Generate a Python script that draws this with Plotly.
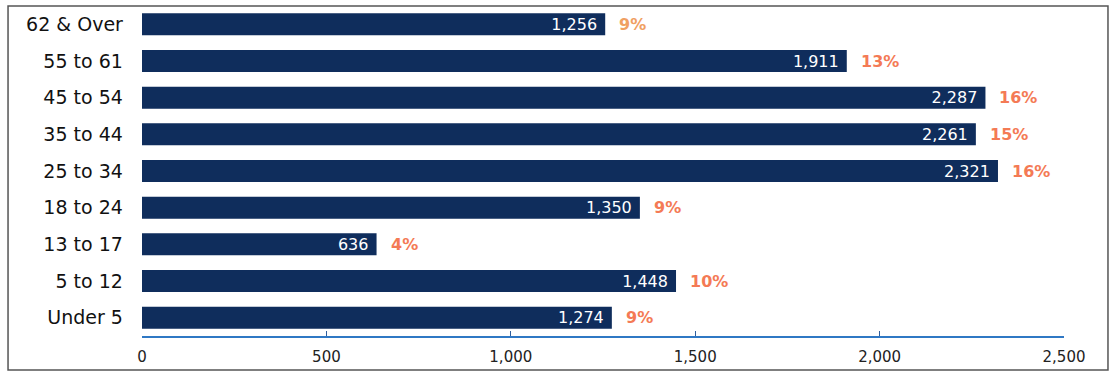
import plotly.graph_objects as go

categories = ["Under 5", "5 to 12", "13 to 17", "18 to 24", "25 to 34",
              "35 to 44", "45 to 54", "55 to 61", "62 & Over"]
values = [1274, 1448, 636, 1350, 2321, 2261, 2287, 1911, 1256]
percents = ["9%", "10%", "4%", "9%", "16%", "15%", "16%", "13%", "9%"]
pct_colors = ["#f47a55", "#f47a55", "#f47a55", "#f47a55", "#f47a55",
              "#f47a55", "#f47a55", "#f47a55", "#f0a062"]
tick_vals = [0, 500, 1000, 1500, 2000, 2500]
tick_text = ["0", "500", "1,000", "1,500", "2,000", "2,500"]

FONT = "DejaVu Sans, sans-serif"

fig = go.Figure()
fig.add_trace(go.Bar(
    y=categories, x=values, orientation="h",
    marker=dict(color="#0f2d5c", line=dict(width=0)),
    text=[f"{v:,}\u00a0" for v in values],
    textposition="inside", insidetextanchor="end",
    constraintext="none", textangle=0,
    textfont=dict(color="white", size=16, family=FONT),
    cliponaxis=False,
))

for c, v, p, col in zip(categories, values, percents, pct_colors):
    fig.add_annotation(x=v, y=c, text=f"<b>{p}</b>", showarrow=False,
                       xanchor="left", xshift=12,
                       font=dict(color=col, size=16, family=FONT))

fig.add_shape(type="rect", xref="paper", yref="paper",
              x0=-0.1453, x1=1.0477, y0=-0.103, y1=1.0,
              line=dict(color="#555555", width=1.5))

fig.update_layout(
    width=1115, height=373,
    margin=dict(l=142, r=51, t=6, b=37),
    paper_bgcolor="white", plot_bgcolor="white",
    bargap=0.4, showlegend=False,
    font=dict(family=FONT, color="#111111"),
)
fig.update_xaxes(range=[0, 2500], tickvals=tick_vals, ticktext=tick_text,
                 showgrid=False, zeroline=False, showline=True,
                 linecolor="#2f78c4", linewidth=2, ticks="inside",
                 tickcolor="#2f5f9e", ticklen=5, ticklabelstandoff=6,
                 tickfont=dict(size=15, color="#222"))
fig.update_yaxes(showgrid=False, zeroline=False, showline=False,
                 ticks="", tickfont=dict(size=19, color="#111"), ticksuffix="   ")

fig.write_html("out.html")
